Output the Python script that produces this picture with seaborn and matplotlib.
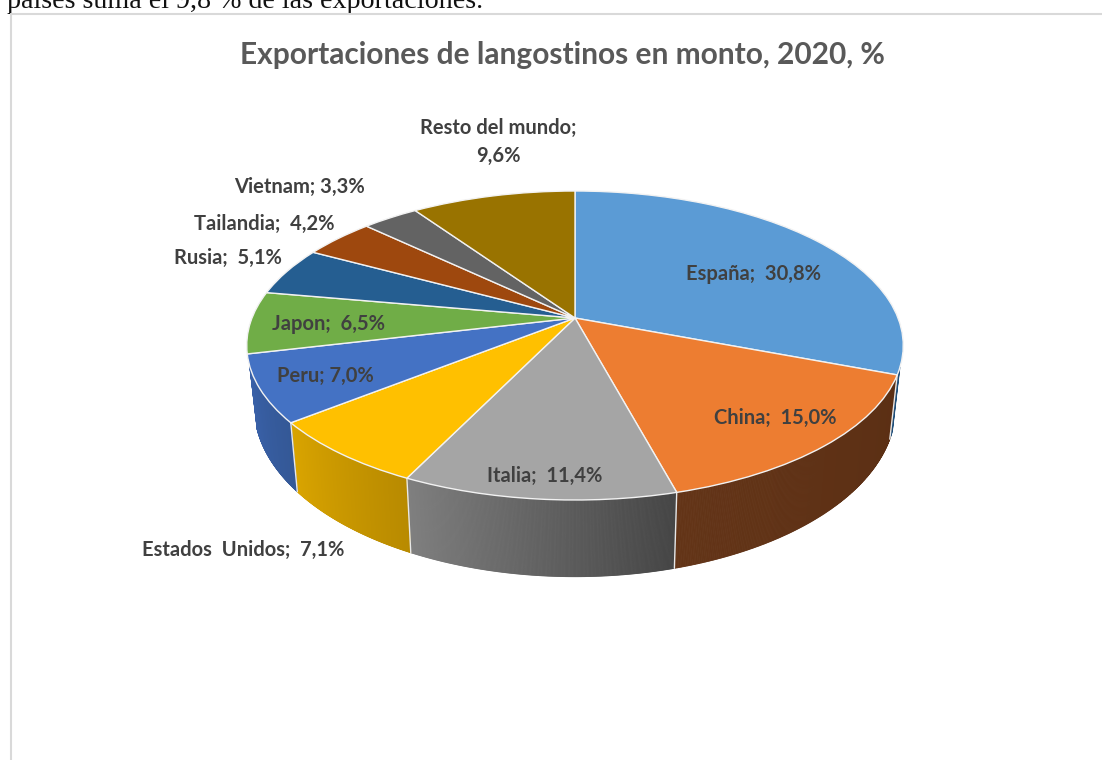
import numpy as np
import matplotlib
matplotlib.use("Agg")
import matplotlib.pyplot as plt
from matplotlib.transforms import Transform
from matplotlib.colors import to_rgb
import seaborn as sns

paises = ["España", "China", "Italia", "Estados Unidos", "Peru", "Japon",
          "Rusia", "Tailandia", "Vietnam", "Resto del mundo"]
montos = [30.8, 15.0, 11.4, 7.1, 7.0, 6.5, 5.1, 4.2, 3.3, 9.6]
textos = ["España;  30,8%", "China;  15,0%", "Italia;  11,4%", "Estados  Unidos;  7,1%", "Peru; 7,0%",
          "Japon;  6,5%", "Rusia;  5,1%", "Tailandia;  4,2%", "Vietnam; 3,3%", "Resto del mundo;\n9,6%"]
colores = ["#5b9bd5", "#ed7d31", "#a5a5a5", "#ffc000", "#4472c4",
           "#70ad47", "#255e91", "#9e480e", "#636363", "#997300"]
# side wall colours, left end / right end of the slices that show a wall
pared_izq = ["#1f4e79", "#633417", "#7f7f7f", "#d9a400", "#3a62ab"]
pared_der = ["#1f4e79", "#5b2f14", "#454545", "#b88a00", "#345896"]
pos_textos = [(753, 274), (775, 418), (545, 476), (243, 550), (325, 376),
              (329, 324), (228, 258), (264, 224), (299, 187), (498, 142)]

sns.set_theme(style="white")
plt.rcParams["font.family"] = ["Lato", "DejaVu Sans"]


class Perspectiva(Transform):
    # unit disc of the pie -> picture pixels
    input_dims = 2
    output_dims = 2

    def transform_non_affine(self, values):
        values = np.asarray(values, dtype=float)
        w = 1 + 0.178 * values[:, 1]
        return np.column_stack([575 + 323 * values[:, 0] / w,
                                318 - 149.6 * values[:, 1] / w])


def abajo(xy):
    # top rim -> bottom rim of the wall
    return np.column_stack([575 + 0.977 * (xy[:, 0] - 575),
                            437 + 1.10 * (xy[:, 1] - 373)])


fig, ax = plt.subplots(figsize=(11.02, 7.6), dpi=100)
ax.set_position([0, 0, 1, 1])
fig.patch.set_facecolor("white")

persp = Perspectiva()
cortes, _ = ax.pie(montos, colors=sns.color_palette(colores), startangle=90, counterclock=False,
                   wedgeprops={"edgecolor": "#f2f2f2", "linewidth": 1.0})
ax.set_aspect("auto")
ax.set_xlim(0, 1102)
ax.set_ylim(760, 0)
ax.axis("off")

bordes = 90 - 3.6 * np.concatenate([[0], np.cumsum(montos)])
for i in range(len(pared_izq)):
    ang = np.radians(np.linspace(bordes[i], bordes[i + 1], 240))
    arriba = persp.transform_non_affine(np.column_stack([np.cos(ang), np.sin(ang)]))
    base = abajo(arriba)
    c1, c2 = np.array(to_rgb(pared_der[i])), np.array(to_rgb(pared_izq[i]))
    for j in range(len(ang) - 1):
        # the wall only starts below the widest part of the disc
        if arriba[j, 1] < 366:
            continue
        t = j / (len(ang) - 2)
        col = c1 + (c2 - c1) * t
        ax.fill([arriba[j, 0], arriba[j + 1, 0], base[j + 1, 0], base[j, 0]],
                [arriba[j, 1], arriba[j + 1, 1], base[j + 1, 1], base[j, 1]],
                facecolor=col, edgecolor=col, linewidth=0.6, zorder=1)
    # light seam between walls
    if arriba[0, 1] >= 366:
        ax.plot([arriba[0, 0], base[0, 0]], [arriba[0, 1], base[0, 1]], color="#e8e8e8", lw=1, zorder=1.5)

for cuna in cortes:
    cuna.set_transform(persp + ax.transData)
    cuna.set_zorder(2)

for txt, (x, y) in zip(textos, pos_textos):
    ax.text(x, y, txt, ha="center", va="center", fontsize=14.5, fontweight="bold", color="#404040",
            linespacing=1.5, zorder=3)

ax.text(562, 55, "Exportaciones de langostinos en monto, 2020, %", ha="center", va="center",
        fontsize=21.5, fontweight="bold", color="#595959")
ax.text(7, 8.5, "países suma el 9,8 % de las exportaciones.", ha="left", va="baseline",
        fontsize=20.2, family=["Liberation Serif", "DejaVu Serif"], color="#111111")

# chart frame cut by the screenshot
ax.plot([11, 1102], [13.5, 13.5], color="#d9d9d9", lw=1.5, zorder=4)
ax.plot([11, 11], [13.5, 760], color="#d9d9d9", lw=1.5, zorder=4)

fig.savefig("out.png", dpi=100)
